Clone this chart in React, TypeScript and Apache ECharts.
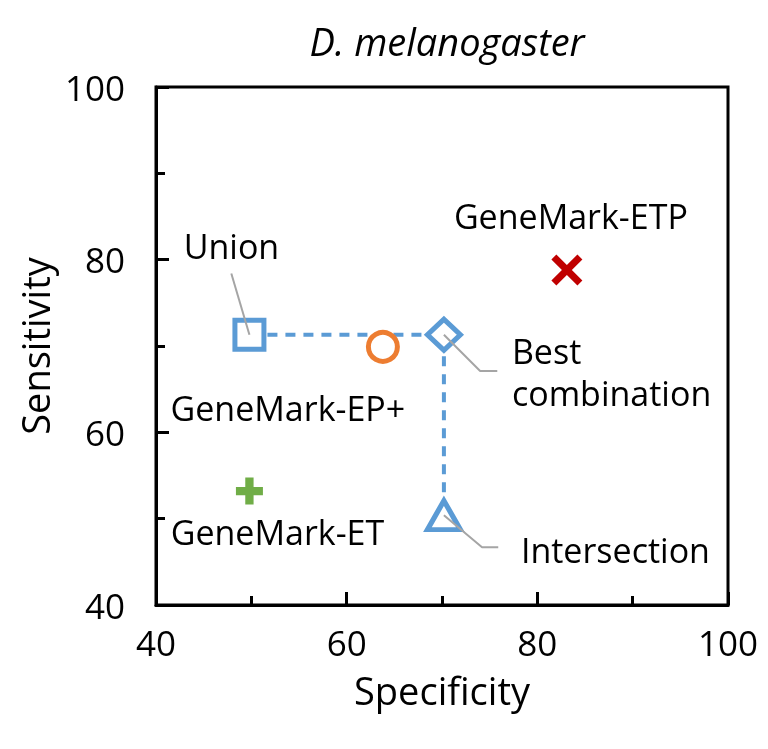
import React, { useEffect, useRef } from "react";
import * as echarts from "echarts";

const TITLE = "D. melanogaster";
const X_NAME = "Specificity";
const Y_NAME = "Sensitivity";
const X_TICKS = [40, 60, 80, 100];
const Y_TICKS = [40, 60, 80, 100];

// [specificity, sensitivity]
const UNION = [49.8, 71.3];
const BEST = [70.2, 71.3];
const INTERSECTION = [70.2, 50.4];
const EP_PLUS = [63.8, 69.9];
const ETP = [83.1, 78.8];
const ET = [49.8, 53.2];

const COMBO_PATH = [UNION, BEST, INTERSECTION];
const UNION_LEADER = [UNION, [47.9, 78.4]];
const BEST_LEADER = [BEST, [74.0, 67.1], [75.8, 67.1]];
const INTER_LEADER = [INTERSECTION, [74.2, 46.7], [75.9, 46.7]];

const BLUE = "#5B9BD5";
const ORANGE = "#ED7D31";
const RED = "#C00000";
const GREEN = "#70AD47";
const GREY = "#A5A5A5";
const FONT = "Open Sans";

const PLUS = "path://M9,0 H17 V9 H26 V17 H17 V26 H9 V17 H0 V9 H9 Z";
const CROSS =
  "path://M0,1.6 L1.6,0 L5,3.4 L8.4,0 L10,1.6 L6.6,5 L10,8.4 L8.4,10 L5,6.6 L1.6,10 L0,8.4 L3.4,5 Z";

export default function App() {
  const ref = useRef<HTMLDivElement>(null);
  useEffect(() => {
    if (!ref.current) return;
    const chart = echarts.init(ref.current, null, { renderer: "svg" });
    const lbl = (text: string, offset: number[], align = "center") => ({
      show: true,
      position: "inside",
      offset,
      formatter: text,
      color: "#000",
      opacity: 1,
      fontFamily: FONT,
      fontSize: 34,
      lineHeight: 42,
      align,
      verticalAlign: "middle",
    });
    const marker = (name: string, pt: number[], symbol: string, size: any, color: string, hollow: boolean, label: any) => ({
      type: "scatter",
      name,
      data: [pt],
      symbol,
      symbolSize: size,
      itemStyle: hollow
        ? { color: "#fff", borderColor: color, borderWidth: 5, opacity: 1 }
        : { color, borderWidth: 0, opacity: 1 },
      label,
      z: 3,
    });
    const leader = (data: number[][]) => ({
      type: "line",
      data,
      symbol: "none",
      lineStyle: { color: GREY, width: 2 },
      z: 5,
      silent: true,
    });
    chart.setOption({
      animation: false,
      title: {
        text: TITLE,
        left: 442,
        top: 17,
        textAlign: "center",
        textStyle: { fontFamily: FONT, fontStyle: "italic", fontWeight: "normal", fontSize: 38, color: "#000" },
      },
      grid: { left: 156, right: 40, top: 87, bottom: 144, show: true, borderColor: "#000", borderWidth: 3 },
      xAxis: {
        type: "value",
        min: X_TICKS[0],
        max: X_TICKS[X_TICKS.length - 1],
        interval: X_TICKS[1] - X_TICKS[0],
        name: X_NAME,
        nameLocation: "middle",
        nameGap: 66,
        nameTextStyle: { fontFamily: FONT, fontSize: 38, color: "#000" },
        axisLine: { show: true, lineStyle: { color: "#000", width: 3 } },
        axisTick: { show: true, inside: true, length: 13, lineStyle: { color: "#000", width: 3 } },
        minorTick: { show: true, splitNumber: 2, length: 9, lineStyle: { color: "#000", width: 3 } },
        splitLine: { show: false },
        axisLabel: { fontFamily: FONT, fontSize: 35, color: "#000", margin: 20 },
      },
      yAxis: {
        type: "value",
        min: Y_TICKS[0],
        max: Y_TICKS[Y_TICKS.length - 1],
        interval: Y_TICKS[1] - Y_TICKS[0],
        name: Y_NAME,
        nameLocation: "middle",
        nameGap: 102,
        nameTextStyle: { fontFamily: FONT, fontSize: 38, color: "#000", padding: [0, 0, 0, 0] },
        axisLine: { show: true, lineStyle: { color: "#000", width: 3 } },
        axisTick: { show: true, inside: true, length: 13, lineStyle: { color: "#000", width: 3 } },
        minorTick: { show: true, splitNumber: 2, length: 9, lineStyle: { color: "#000", width: 3 } },
        splitLine: { show: false },
        axisLabel: { fontFamily: FONT, fontSize: 35, color: "#000", margin: 31 },
      },
      series: [
        {
          type: "line",
          data: COMBO_PATH,
          symbol: "none",
          lineStyle: { color: BLUE, width: 4, type: [10, 8] },
          z: 2,
          silent: true,
        },
        marker("Union", UNION, "rect", 29, BLUE, true, lbl("Union", [-18, -89])),
        marker("Best combination", BEST, "diamond", [33, 31], BLUE, true, lbl("Best\ncombination", [68, 37], "left")),
        marker("Intersection", INTERSECTION, "triangle", [33, 29], BLUE, true, lbl("Intersection", [77, 35], "left")),
        marker("GeneMark-EP+", EP_PLUS, "circle", 29, ORANGE, true, lbl("GeneMark-EP+", [-95, 61])),
        marker("GeneMark-ETP", ETP, CROSS, 31, RED, false, lbl("GeneMark-ETP", [4, -54])),
        marker("GeneMark-ET", ET, PLUS, 27, GREEN, false, lbl("GeneMark-ET", [28, 41])),
        leader(UNION_LEADER),
        leader(BEST_LEADER),
        leader(INTER_LEADER),
      ],
    });
    return () => chart.dispose();
  }, []);
  return <div ref={ref} style={{ position: "fixed", left: 0, top: 0, width: 768, height: 749 }} />;
}
